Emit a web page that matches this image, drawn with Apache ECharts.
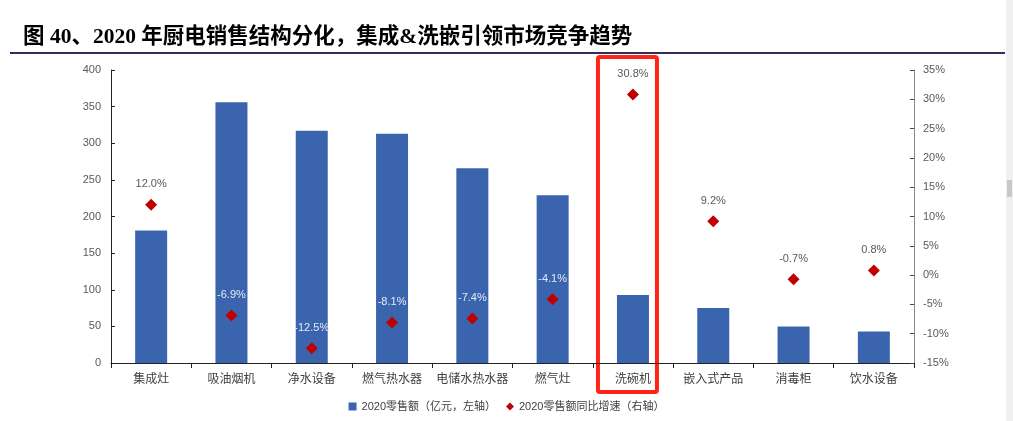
<!DOCTYPE html>
<html><head><meta charset="utf-8">
<script src="https://cdn.jsdelivr.net/npm/echarts@6/dist/echarts.min.js"></script>
<style>html,body{margin:0;padding:0;background:#fff;}#c{width:1013px;height:421px;}</style>
</head><body><div id="c"></div>
<script>
const categories = ['集成灶','吸油烟机','净水设备','燃气热水器','电储水热水器','燃气灶','洗碗机','嵌入式产品','消毒柜','饮水设备'];
const sales = [181, 356, 317, 313, 266, 229, 93, 75, 50, 43];
const growth = [12.0, -6.9, -12.5, -8.1, -7.4, -4.1, 30.8, 9.2, -0.7, 0.8];
const leftTicks = {min: 0, max: 400, interval: 50};
const rightTicks = {min: -15, max: 35, interval: 5};
const highlightCategory = '洗碗机';

const chart = echarts.init(document.getElementById('c'), null, {renderer: 'canvas'});
const lightLabel = [false, true, true, true, true, true, false, false, false, false];
const option = {
  backgroundColor: '#fff',
  animation: false,
  title: {
    text: '图 40、2020 年厨电销售结构分化，集成&洗嵌引领市场竞争趋势',
    left: 18, top: 22,
    textStyle: {fontFamily: "'Liberation Serif','Noto Sans CJK SC'", fontWeight: 'bold', fontSize: 21.5, color: '#000'}
  },
  grid: {left: 111, right: 99, top: 70, bottom: 58},
  legend: {
    bottom: 4, left: 'center', itemGap: 10, itemWidth: 8, itemHeight: 8,
    textStyle: {fontSize: 11, color: '#404040', fontFamily: "'Liberation Sans','Noto Sans CJK SC'"},
    data: [
      {name: '2020零售额（亿元，左轴）', icon: 'rect'},
      {name: '2020零售额同比增速（右轴）', icon: 'diamond'}
    ]
  },
  xAxis: {
    type: 'category', data: categories,
    axisLine: {lineStyle: {color: '#222', width: 1}},
    axisTick: {show: true, alignWithLabel: false, length: 5, lineStyle: {color: '#222'}},
    axisLabel: {interval: 0, fontSize: 12, color: '#404040', margin: 9, fontFamily: "'Noto Sans CJK SC'"}
  },
  yAxis: [
    {type: 'value', min: leftTicks.min, max: leftTicks.max, interval: leftTicks.interval,
      splitLine: {show: false},
      axisLine: {show: true, lineStyle: {color: '#222'}},
      axisTick: {show: true, inside: true, length: 4, lineStyle: {color: '#222'}},
      axisLabel: {fontSize: 11, color: '#595959', margin: 10, fontFamily: "'Liberation Sans'"}},
    {type: 'value', min: rightTicks.min, max: rightTicks.max, interval: rightTicks.interval,
      splitLine: {show: false},
      axisLine: {show: true, lineStyle: {color: '#888'}},
      axisTick: {show: true, inside: true, length: 4, lineStyle: {color: '#444'}},
      axisLabel: {fontSize: 11, color: '#595959', margin: 9, formatter: v => v + '%', fontFamily: "'Liberation Sans'"}}
  ],
  series: [
    {name: '2020零售额（亿元，左轴）', type: 'bar', data: sales, barWidth: 32,
      itemStyle: {color: '#3A64AE'}},
    {name: '2020零售额同比增速（右轴）', type: 'scatter', yAxisIndex: 1, symbol: 'diamond', symbolSize: 12,
      itemStyle: {color: '#C00000', opacity: 1},
      data: growth.map((v, i) => ({value: v, label: {color: lightLabel[i] ? '#E6EAF2' : '#595959'}})),
      label: {show: true, position: 'top', distance: 9, fontSize: 11, fontFamily: "'Liberation Sans'",
        formatter: p => p.value.toFixed(1) + '%'}}
  ]
};
chart.setOption(option);

// annotation box around highlighted category + page decorations
const hx = chart.convertToPixel({xAxisIndex: 0}, highlightCategory);
const hTop = chart.convertToPixel({yAxisIndex: 0}, leftTicks.max);
chart.setOption({
  graphic: [
    {type: 'line', shape: {x1: 10, y1: 53, x2: 1005, y2: 53}, style: {stroke: '#2E2F5E', lineWidth: 2}},
    {type: 'rect', shape: {x: hx - 35, y: hTop - 13, width: 59, height: 335, r: 2},
      style: {fill: null, stroke: '#FF2418', lineWidth: 4}},
    {type: 'rect', shape: {x: 1006, y: 0, width: 7, height: 421}, style: {fill: '#F0F0F0'}},
    {type: 'rect', shape: {x: 1007, y: 180, width: 5, height: 17}, style: {fill: '#C8C8C8'}}
  ]
});
</script></body></html>
